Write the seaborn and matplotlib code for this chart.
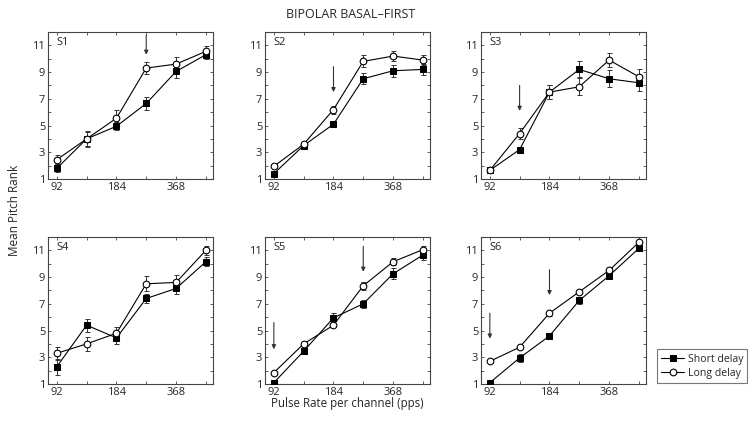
import numpy as np
import pandas as pd
import seaborn as sns
import matplotlib
matplotlib.use('Agg')
import matplotlib.pyplot as plt
from matplotlib.ticker import FixedLocator, NullFormatter, FixedFormatter

# pulse rates (pps)
rates = [92, 130, 184, 260, 368, 520]
subjects = ['S1', 'S2', 'S3', 'S4', 'S5', 'S6']

short_mean = {
    'S1': [1.8, 4.0, 4.95, 6.65, 9.05, 10.3],
    'S2': [1.4, 3.5, 5.1, 8.5, 9.1, 9.2],
    'S3': [1.65, 3.2, 7.5, 9.2, 8.5, 8.2],
    'S4': [2.3, 5.4, 4.45, 7.4, 8.15, 10.15],
    'S5': [1.1, 3.45, 5.95, 7.0, 9.25, 10.65],
    'S6': [1.1, 2.95, 4.6, 7.25, 9.1, 11.15],
}
short_err = {
    'S1': [0.3, 0.5, 0.3, 0.5, 0.5, 0.3],
    'S2': [0.1, 0.1, 0.15, 0.4, 0.45, 0.4],
    'S3': [0.1, 0.15, 0.5, 0.6, 0.65, 0.6],
    'S4': [0.6, 0.5, 0.45, 0.35, 0.45, 0.35],
    'S5': [0.05, 0.15, 0.35, 0.3, 0.4, 0.35],
    'S6': [0.05, 0.3, 0.1, 0.25, 0.15, 0.15],
}
long_mean = {
    'S1': [2.45, 4.0, 5.55, 9.3, 9.6, 10.55],
    'S2': [1.95, 3.6, 6.2, 9.8, 10.2, 9.9],
    'S3': [1.65, 4.4, 7.5, 7.9, 9.9, 8.65],
    'S4': [3.3, 4.0, 4.8, 8.5, 8.6, 11.0],
    'S5': [1.85, 4.0, 5.4, 8.35, 10.15, 11.05],
    'S6': [2.7, 3.75, 6.3, 7.9, 9.5, 11.6],
}
long_err = {
    'S1': [0.35, 0.6, 0.6, 0.45, 0.5, 0.4],
    'S2': [0.15, 0.1, 0.3, 0.45, 0.4, 0.4],
    'S3': [0.1, 0.4, 0.5, 0.65, 0.5, 0.55],
    'S4': [0.5, 0.55, 0.5, 0.55, 0.55, 0.35],
    'S5': [0.1, 0.15, 0.15, 0.3, 0.25, 0.3],
    'S6': [0.1, 0.15, 0.2, 0.15, 0.15, 0.1],
}
# arrows: (rate, y_start, y_end)
arrows = {
    'S1': [(260, 11.75, 10.3)],
    'S2': [(184, 9.4, 7.5)],
    'S3': [(130, 8.0, 6.1)],
    'S4': [],
    'S5': [(92, 5.6, 3.6), (260, 11.3, 9.4)],
    'S6': [(92, 6.3, 4.4), (184, 9.55, 7.65)],
}

sns.set_style('ticks')
plt.rcParams['font.family'] = ['Open Sans', 'DejaVu Sans']
plt.rcParams['xtick.direction'] = 'in'
plt.rcParams['ytick.direction'] = 'in'

fig = plt.figure(figsize=(7.49, 4.28), dpi=100)

lefts = [48, 265, 481]
tops = [32, 237]
w_px, h_px = 165, 147

for i, s in enumerate(subjects):
    r, c = divmod(i, 3)
    ax = fig.add_axes([lefts[c] / 749, 1 - (tops[r] + h_px) / 428, w_px / 749, h_px / 428])
    df = pd.DataFrame({'rate': rates, 'short': short_mean[s], 'long': long_mean[s]})

    ax.errorbar(rates, short_mean[s], yerr=short_err[s], fmt='none', ecolor='#333333',
                elinewidth=0.7, capsize=1.8, capthick=0.7, zorder=1)
    ax.errorbar(rates, long_mean[s], yerr=long_err[s], fmt='none', ecolor='#333333',
                elinewidth=0.7, capsize=1.8, capthick=0.7, zorder=1)
    sns.lineplot(data=df, x='rate', y='short', ax=ax, color='black', lw=0.8,
                 marker='s', markersize=3.8, markerfacecolor='black',
                 markeredgecolor='black', label='Short delay', legend=False, zorder=3)
    sns.lineplot(data=df, x='rate', y='long', ax=ax, color='black', lw=0.8,
                 marker='o', markersize=4.8, markerfacecolor='white',
                 markeredgecolor='black', markeredgewidth=0.8,
                 label='Long delay', legend=False, zorder=3)

    for (xr, y0, y1) in arrows[s]:
        ax.annotate('', xy=(xr, y1), xytext=(xr, y0),
                    arrowprops=dict(arrowstyle='-|>', color='#333333', lw=0.8,
                                    mutation_scale=6, shrinkA=0, shrinkB=0))

    ax.set_xscale('log')
    ax.set_xlim(83, 565)
    ax.set_ylim(1, 12)
    ax.xaxis.set_major_locator(FixedLocator(rates))
    ax.xaxis.set_major_formatter(FixedFormatter(['92', '', '184', '', '368', '']))
    ax.xaxis.set_minor_locator(FixedLocator([]))
    ax.xaxis.set_minor_formatter(NullFormatter())
    ax.yaxis.set_major_locator(FixedLocator(range(1, 13)))
    ax.yaxis.set_major_formatter(FixedFormatter(['1', '', '3', '', '5', '', '7', '', '9', '', '11', '']))
    ax.tick_params(which='both', top=True, right=True, length=2.5, width=0.6,
                   labelsize=8, pad=2, color='#444444')
    for sp in ax.spines.values():
        sp.set_linewidth(0.8)
        sp.set_color('#444444')
    ax.set_xlabel('')
    ax.set_ylabel('')
    ax.text(0.05, 0.93, s, transform=ax.transAxes, fontsize=8, va='center', ha='left')

    if s == 'S6':
        handles, labels = ax.get_legend_handles_labels()
        leg = fig.legend(handles, labels, loc='lower left',
                         bbox_to_anchor=(657 / 749, 1 - 383 / 428), fontsize=7.6,
                         frameon=True, fancybox=False, edgecolor='#555555',
                         borderpad=0.4, labelspacing=0.3, handlelength=2.2,
                         handletextpad=0.3, borderaxespad=0)
        leg.get_frame().set_linewidth(0.8)

fig.text(351 / 749, 1 - 14 / 428, 'BIPOLAR BASAL\u2013FIRST', ha='center', va='center', fontsize=9)
fig.text(347 / 749, 1 - 404 / 428, 'Pulse Rate per channel (pps)', ha='center', va='center', fontsize=8.3)
fig.text(15 / 749, 1 - 210 / 428, 'Mean Pitch Rank', ha='center', va='center', fontsize=8.5, rotation=90)

fig.savefig('out.png', dpi=100)
